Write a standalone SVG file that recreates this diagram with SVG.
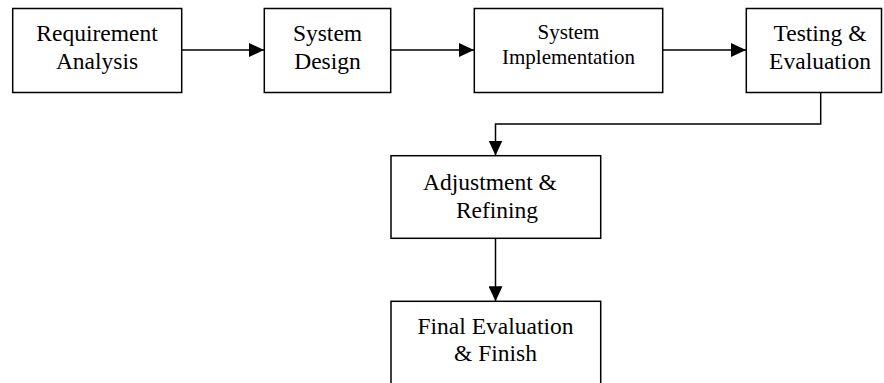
<svg xmlns="http://www.w3.org/2000/svg" width="884" height="383" viewBox="0 0 884 383">
<style>
.box{fill:#fff;stroke:#000;stroke-width:1.5}
.t{font-family:"Liberation Serif","Times New Roman",serif;font-size:23.5px;fill:#000;text-anchor:middle}
.ts{font-family:"Liberation Serif","Times New Roman",serif;font-size:21px;fill:#000;text-anchor:middle}
.c{fill:none;stroke:#000;stroke-width:1.5}
</style>
<defs>
<marker id="ah" markerUnits="userSpaceOnUse" markerWidth="16" markerHeight="14" refX="15" refY="7" orient="auto">
<path d="M0,0 L15,7 L0,14 Z" fill="#000"/>
</marker>
</defs>
<rect width="884" height="383" fill="#fff"/>
<g id="connectors">
<path class="c" d="M182,50 H264" marker-end="url(#ah)"/>
<path class="c" d="M391,50 H474" marker-end="url(#ah)"/>
<path class="c" d="M663,50 H746" marker-end="url(#ah)"/>
<path class="c" d="M820.7,92.5 V124 H495.5 V155.5" marker-end="url(#ah)"/>
<path class="c" d="M495.5,238.5 V301.3" marker-end="url(#ah)"/>
</g>
<g id="n1"><rect class="box" x="12.7" y="8.5" width="169" height="84"/><text class="t" x="97" y="41">Requirement</text><text class="t" x="97" y="69">Analysis</text></g>
<g id="n2"><rect class="box" x="264.3" y="8.5" width="126.4" height="84"/><text class="t" x="327.5" y="41">System</text><text class="t" x="327.5" y="69">Design</text></g>
<g id="n3"><rect class="box" x="474.3" y="8.5" width="188.4" height="84"/><text class="ts" x="568.5" y="38.5">System</text><text class="ts" x="568.5" y="63.5">Implementation</text></g>
<g id="n4"><rect class="box" x="746.3" y="8.5" width="135.2" height="84"/><text class="t" x="820" y="40.5">Testing &amp;</text><text class="t" x="820" y="68.5">Evaluation</text></g>
<g id="n5"><rect class="box" x="391" y="155.7" width="209.7" height="82.6"/><text class="t" x="490" y="189.5">Adjustment &amp;</text><text class="t" x="497" y="217.7">Refining</text></g>
<g id="n6"><rect class="box" x="391" y="301.3" width="209.7" height="90"/><text class="t" x="495.5" y="333.5">Final Evaluation</text><text class="t" x="495.5" y="361">&amp; Finish</text></g>
</svg>
